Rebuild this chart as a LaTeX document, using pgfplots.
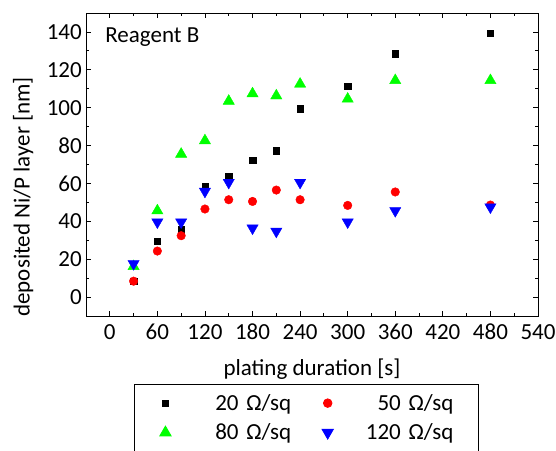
\documentclass[border=0pt]{standalone}
\usepackage{fontspec}
\setmainfont{Carlito}
\usepackage{pgfplots}
\pgfplotsset{compat=1.18}
\begin{document}
\begin{tikzpicture}[font=\fontsize{23}{27}\selectfont]
\begin{axis}[
  name=ax,
  width=452pt,height=303pt,scale only axis,
  xmin=-30,xmax=540,ymin=-10,ymax=150,
  xtick={0,60,...,540},ytick={0,20,...,140},
  minor x tick num=1,minor y tick num=1,
  tick align=inside,major tick length=5pt,minor tick length=3pt,
  every tick/.style={black,line width=0.8pt},
  axis line style={line width=0.9pt},
  /pgf/number format/assume math mode=true,
  every tick label/.append style={inner sep=0pt},
  xticklabel shift=8pt,yticklabel shift=4pt,
  xlabel={plating duration [s]},ylabel={deposited Ni/P layer [nm]},
  xlabel style={at={(axis description cs:0.5,-0.198)},anchor=base},
  ylabel style={at={(axis description cs:-0.139,0.393)},anchor=center},
  legend columns=2,
  legend cell align=right,
  legend style={at={(axis description cs:0.488,-0.2244)},anchor=north,draw=black,line width=0.8pt,
    nodes={text width=102pt,align=right,inner xsep=0pt,inner ysep=0pt},
    /tikz/every odd column/.style={column sep=18pt},
    /tikz/every even column/.style={column sep=31pt},
    inner xsep=25pt,inner ysep=10pt,row sep=12pt},
]
\addplot[only marks,mark=square*,mark size=3.2pt,black] coordinates {
(30,8.4) (60,29.4) (90,35.5) (120,58.4) (150,63.5) (180,72.4) (210,77.3)
(240,99.5) (300,111.5) (360,128.5) (480,139.4)};
\addlegendentry{20 Ω/sq}
\addplot[only marks,mark=*,mark size=4.3pt,red,mark options={fill=red,draw=red}] coordinates {
(30,8.4) (60,24.3) (90,32.4) (120,46.5) (150,51.4) (180,50.5) (210,56.5)
(240,51.4) (300,48.4) (360,55.5) (480,48.6)};
\addlegendentry{50 Ω/sq}
\addplot[only marks,mark=triangle*,mark size=6.5pt,green,mark options={fill=green,draw=green}] coordinates {
(30,16.2) (60,45.6) (90,75.5) (120,82.6) (150,103.5) (180,107.4) (210,106.3)
(240,112.5) (300,104.6) (360,114.4) (480,114.4)};
\addlegendentry{80 Ω/sq}
\addplot[only marks,mark=triangle*,mark size=6.5pt,blue,mark options={fill=blue,draw=blue,rotate=180}] coordinates {
(30,17.6) (60,39.6) (90,39.6) (120,55.8) (150,60.5) (180,36.4) (210,34.7)
(240,60.5) (300,39.6) (360,45.6) (480,47.5)};
\addlegendentry{120 Ω/sq}
\node[anchor=base west] at (rel axis cs:0.035,0.901) {Reagent B};
\end{axis}
\pgfresetboundingbox
\path[use as bounding box] ([shift={(-86pt,-134pt)}]ax.south west) rectangle ([shift={(470pt,316pt)}]ax.south west);
\end{tikzpicture}
\end{document}
